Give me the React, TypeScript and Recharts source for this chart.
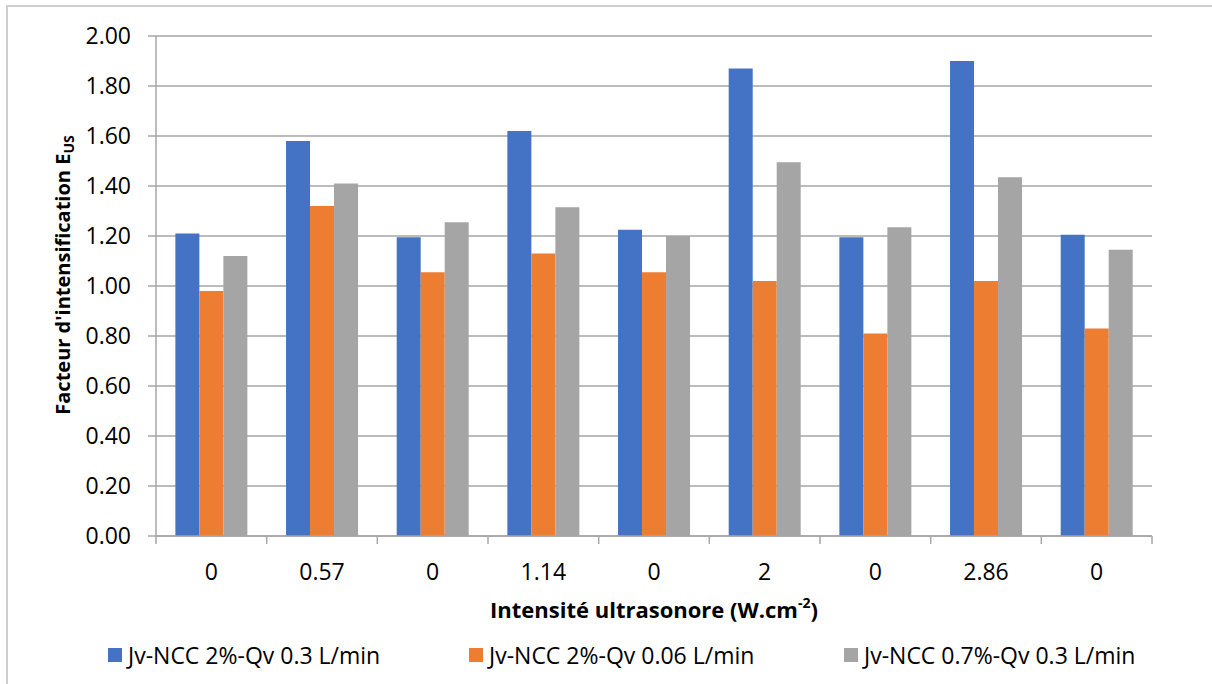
import React from 'react';
import { BarChart, Bar, XAxis, YAxis, CartesianGrid } from 'recharts';

const categories = ['0', '0.57', '0', '1.14', '0', '2', '0', '2.86', '0'];
const seriesBlue = [1.21, 1.58, 1.195, 1.62, 1.225, 1.87, 1.195, 1.9, 1.205];
const seriesOrange = [0.98, 1.32, 1.055, 1.13, 1.055, 1.02, 0.81, 1.02, 0.83];
const seriesGray = [1.12, 1.41, 1.255, 1.315, 1.2, 1.495, 1.235, 1.435, 1.145];
const yTicks = [0, 0.2, 0.4, 0.6, 0.8, 1.0, 1.2, 1.4, 1.6, 1.8, 2.0];

const seriesNames = [
  'Jv-NCC 2%-Qv 0.3 L/min',
  'Jv-NCC 2%-Qv 0.06 L/min',
  'Jv-NCC 0.7%-Qv 0.3 L/min',
];
const colors = ['#4472C4', '#ED7D31', '#A5A5A5'];
const legendLefts = [108, 469, 844];

const W = 1212;
const H = 684;
const MARGIN = { top: 36, right: 60, left: 0, bottom: 0 };
const Y_AXIS_W = 156;
const BAND = (W - MARGIN.left - MARGIN.right - Y_AXIS_W) / categories.length;
const AXIS_GRAY = '#a6a6a6';
const FONT = '"Open Sans", sans-serif';

const data = categories.map((c, i) => ({
  cat: c,
  blue: seriesBlue[i],
  orange: seriesOrange[i],
  gray: seriesGray[i],
}));

// Excel draws the x ticks between categories, not under them
const CatTick = ({ x, y, payload, index }: any) => (
  <g>
    <line x1={x - BAND / 2} x2={x - BAND / 2} y1={y} y2={y + 8} stroke={AXIS_GRAY} strokeWidth={1.5} />
    {index === categories.length - 1 && (
      <line x1={x + BAND / 2} x2={x + BAND / 2} y1={y} y2={y + 8} stroke={AXIS_GRAY} strokeWidth={1.5} />
    )}
    <text x={x} y={y + 44} textAnchor="middle" fill="#000" fontSize={23} fontFamily={FONT}>
      {payload.value}
    </text>
  </g>
);

const XTitle = ({ viewBox }: any) => (
  <text
    x={viewBox.x + viewBox.width / 2}
    y={viewBox.y + 82}
    textAnchor="middle"
    fontSize={22}
    fontWeight="bold"
    fontFamily={FONT}
    fill="#000"
  >
    Intensité ultrasonore (W.cm<tspan fontSize={14} dy={-10}>-2</tspan>
    <tspan dy={10}>)</tspan>
  </text>
);

const YTitle = ({ viewBox }: any) => {
  const cx = 62;
  const cy = viewBox.y + viewBox.height / 2 - 11;
  return (
    <text
      x={cx}
      y={cy}
      transform={`rotate(-90, ${cx}, ${cy})`}
      textAnchor="middle"
      dominantBaseline="central"
      fontSize={20}
      fontWeight="bold"
      fontFamily={FONT}
      fill="#000"
    >
      Facteur d'intensification E<tspan fontSize={14} dy={6}>US</tspan>
    </text>
  );
};

export default function App() {
  return (
    <div style={{ position: 'absolute', left: 0, top: 0, width: W, height: H, background: '#fff' }}>
      <div
        style={{
          position: 'absolute',
          left: 6,
          top: 5,
          width: W - 6,
          height: H - 5,
          borderLeft: '2px solid #cfcfcf',
          borderTop: '2px solid #cfcfcf',
          boxSizing: 'border-box',
        }}
      />
      <BarChart
        width={W}
        height={H - 50}
        data={data}
        margin={MARGIN}
        barCategoryGap="17.5%"
        barGap={0}
        style={{ position: 'absolute', left: 0, top: 0 }}
      >
        <CartesianGrid vertical={false} stroke={AXIS_GRAY} strokeWidth={1.5} />
        <XAxis
          dataKey="cat"
          height={98}
          tickLine={false}
          tickSize={0}
          tickMargin={0}
          axisLine={{ stroke: AXIS_GRAY, strokeWidth: 1.5 }}
          tick={<CatTick />}
          interval={0}
          label={<XTitle />}
        />
        <YAxis
          width={Y_AXIS_W}
          domain={[0, 2]}
          ticks={yTicks}
          interval={0}
          tickFormatter={(v: number) => v.toFixed(2)}
          tickSize={8}
          tickMargin={17}
          tickLine={{ stroke: AXIS_GRAY, strokeWidth: 1.5 }}
          axisLine={{ stroke: AXIS_GRAY, strokeWidth: 1.5 }}
          tick={{ fill: '#000', fontSize: 23, fontFamily: FONT }}
          label={<YTitle />}
        />
        <Bar dataKey="blue" name={seriesNames[0]} fill={colors[0]} isAnimationActive={false} />
        <Bar dataKey="orange" name={seriesNames[1]} fill={colors[1]} isAnimationActive={false} />
        <Bar dataKey="gray" name={seriesNames[2]} fill={colors[2]} isAnimationActive={false} />
      </BarChart>
      {seriesNames.map((n, i) => (
        <div
          key={n}
          style={{
            position: 'absolute',
            left: legendLefts[i],
            top: 639,
            display: 'flex',
            alignItems: 'center',
            whiteSpace: 'nowrap',
            fontFamily: FONT,
            fontSize: 23,
            color: '#000',
          }}
        >
          <span style={{ width: 14, height: 14, background: colors[i], marginRight: 6, display: 'inline-block' }} />
          {n}
        </div>
      ))}
    </div>
  );
}
